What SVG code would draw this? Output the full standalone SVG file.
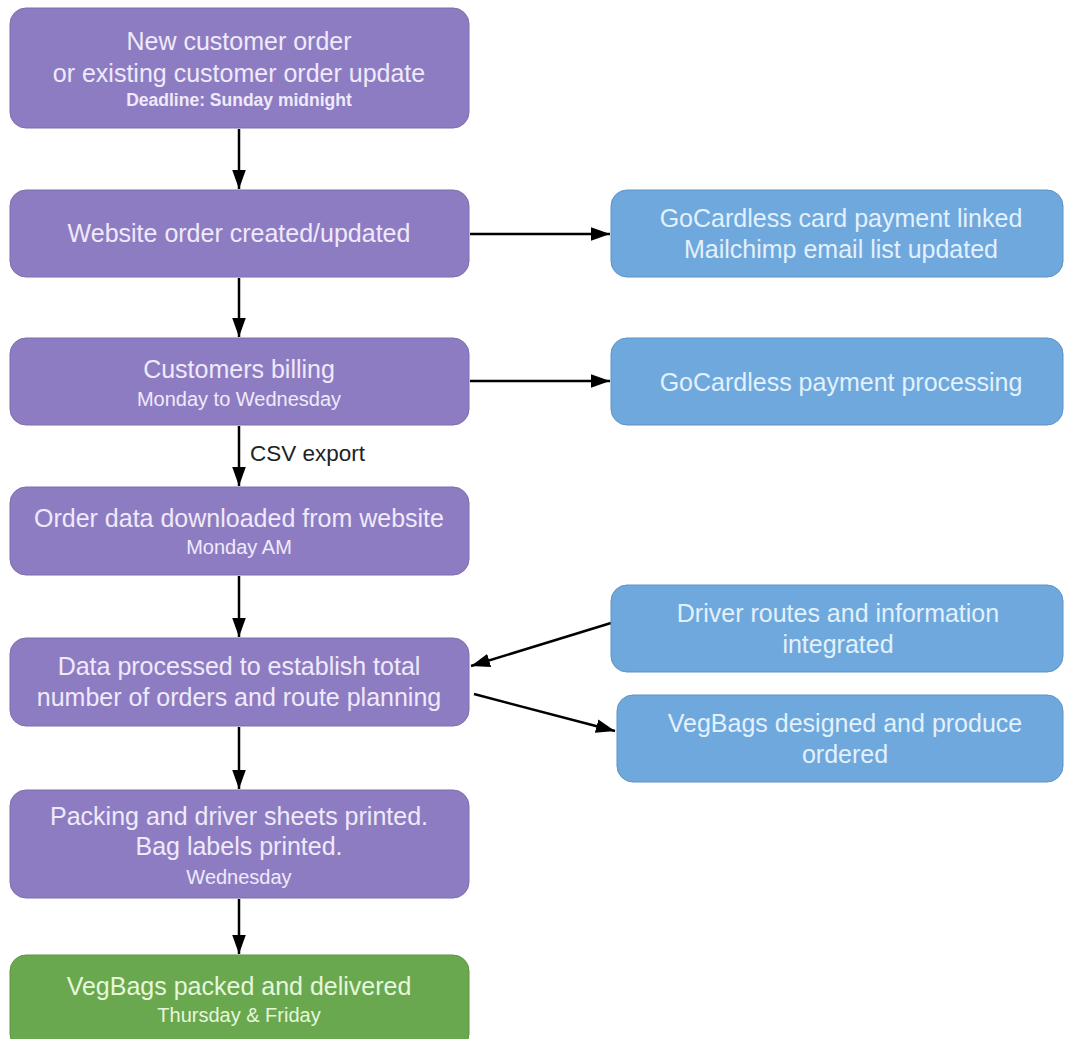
<svg xmlns="http://www.w3.org/2000/svg" width="1065" height="1039" viewBox="0 0 1065 1039">
<style>
.p{fill:#8e7cc3;stroke:#7c6cab;stroke-width:1}
.b{fill:#6fa8dc;stroke:#5e93c4;stroke-width:1}
.g{fill:#6aa84f;stroke:#5c9444;stroke-width:1}
text{font-family:"Liberation Sans",Arial,sans-serif;text-anchor:middle}
.t{font-size:25px}
.s{font-size:20px}
.tp{fill:#efeafa}
.tb{fill:#e2f1fd}
.tg{fill:#e6f7dc}
.c{stroke:#000;stroke-width:2.5;fill:none;marker-end:url(#ah)}
.lbl{font-size:22.5px;fill:#222;text-anchor:start}
</style>
<defs>
<marker id="ah" viewBox="0 0 14 10" refX="14" refY="5" markerWidth="7.6" markerHeight="5.8" orient="auto" markerUnits="strokeWidth">
<path d="M0,0 L14,5 L0,10 z" fill="#000"/>
</marker>
</defs>
<rect width="1065" height="1039" fill="#fff"/>
<g id="connectors">
<line class="c" x1="239" y1="129" x2="239" y2="189"/>
<line class="c" x1="239" y1="278" x2="239" y2="337"/>
<line class="c" x1="239" y1="426" x2="239" y2="486"/>
<line class="c" x1="239" y1="576" x2="239" y2="637"/>
<line class="c" x1="239" y1="727" x2="239" y2="789"/>
<line class="c" x1="239" y1="899" x2="239" y2="954"/>
<line class="c" x1="470" y1="234" x2="610" y2="234"/>
<line class="c" x1="470" y1="381" x2="610" y2="381"/>
<line class="c" x1="611" y1="623" x2="471" y2="666"/>
<line class="c" x1="474" y1="694" x2="615" y2="731"/>
<text class="lbl" x="250" y="461">CSV export</text>
</g>
<g id="n1">
<rect class="p" x="10" y="8" width="459" height="120" rx="16"/>
<text class="t tp" x="239" y="50">New customer order</text>
<text class="t tp" x="239" y="82">or existing customer order update</text>
<text class="tp" x="239" y="106" font-size="17.5" font-weight="bold">Deadline: Sunday midnight</text>
</g>
<g id="n2">
<rect class="p" x="10" y="190" width="459" height="87" rx="16"/>
<text class="t tp" x="239" y="242">Website order created/updated</text>
</g>
<g id="n3">
<rect class="p" x="10" y="338" width="459" height="87" rx="16"/>
<text class="t tp" x="239" y="378">Customers billing</text>
<text class="s tp" x="239" y="406">Monday to Wednesday</text>
</g>
<g id="n4">
<rect class="p" x="10" y="487" width="459" height="88" rx="16"/>
<text class="t tp" x="239" y="527">Order data downloaded from website</text>
<text class="s tp" x="239" y="554">Monday AM</text>
</g>
<g id="n5">
<rect class="p" x="10" y="638" width="459" height="88" rx="16"/>
<text class="t tp" x="239" y="675">Data processed to establish total</text>
<text class="t tp" x="239" y="706">number of orders and route planning</text>
</g>
<g id="n6">
<rect class="p" x="10" y="790" width="459" height="108" rx="16"/>
<text class="t tp" x="239" y="825">Packing and driver sheets printed.</text>
<text class="t tp" x="239" y="855">Bag labels printed.</text>
<text class="s tp" x="239" y="884">Wednesday</text>
</g>
<g id="n7">
<rect class="g" x="10" y="955" width="459" height="95" rx="16"/>
<text class="t tg" x="239" y="995">VegBags packed and delivered</text>
<text class="s tg" x="239" y="1022">Thursday &amp; Friday</text>
</g>
<g id="b1">
<rect class="b" x="611" y="190" width="452" height="87" rx="16"/>
<text class="t tb" x="841" y="227">GoCardless card payment linked</text>
<text class="t tb" x="841" y="258">Mailchimp email list updated</text>
</g>
<g id="b2">
<rect class="b" x="611" y="338" width="452" height="87" rx="16"/>
<text class="t tb" x="841" y="391">GoCardless payment processing</text>
</g>
<g id="b3">
<rect class="b" x="611" y="585" width="452" height="87" rx="16"/>
<text class="t tb" x="838" y="622">Driver routes and information</text>
<text class="t tb" x="838" y="653">integrated</text>
</g>
<g id="b4">
<rect class="b" x="617" y="695" width="446" height="87" rx="16"/>
<text class="t tb" x="845" y="732">VegBags designed and produce</text>
<text class="t tb" x="845" y="763">ordered</text>
</g>
</svg>
